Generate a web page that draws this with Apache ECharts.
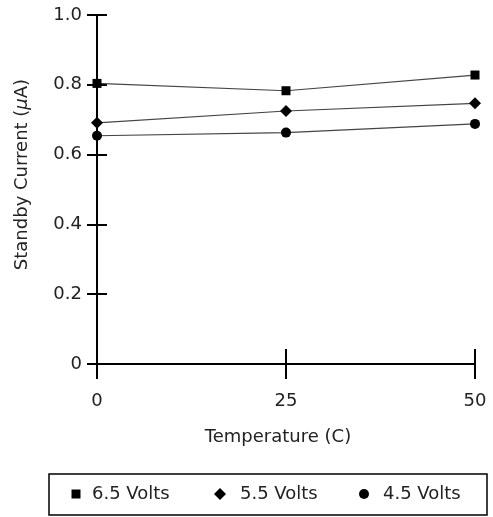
<!DOCTYPE html>
<html><head><meta charset="utf-8">
<script src="https://cdn.jsdelivr.net/npm/echarts@6/dist/echarts.min.js"></script>
<style>html,body{margin:0;padding:0;background:#fff}#c{width:493px;height:517px}</style>
</head><body><div id="c"></div>
<script>
const temperatures = [0, 25, 50];
const seriesNames = ['6.5 Volts', '5.5 Volts', '4.5 Volts'];
const v65 = [0.804, 0.783, 0.828];
const v55 = [0.691, 0.725, 0.747];
const v45 = [0.654, 0.663, 0.688];
const xTicks = [0, 25, 50];
const yTicks = [0, 0.2, 0.4, 0.6, 0.8, 1.0];

const FONT = 'DejaVu Sans';
const FS = 18;
const TXT = '#222';
const chart = echarts.init(document.getElementById('c'), null, {renderer: 'canvas'});

function pairs(vals) { return temperatures.map((t, i) => [t, vals[i]]); }

const symbols = ['rect', 'diamond', 'circle'];
const symSizes = [9, 12, 10];
const allVals = [v65, v55, v45];
const legendIcon = [9, 12, 10];
const legendLeft = [71.5, 214, 359];
const legendPad = [6.5, 9, 9];

const axisLineStyle = {show: true, lineStyle: {color: '#000', width: 2}};
const tickStyle = {color: '#000', width: 2};

const option = {
  animation: false,
  grid: {left: 97, right: 18, top: 15, bottom: 153, containLabel: false},
  xAxis: [
    {type: 'value', min: 0, max: 50, interval: 25, position: 'bottom',
     axisLine: axisLineStyle, splitLine: {show: false},
     axisTick: {show: true, inside: false, length: 15, lineStyle: tickStyle},
     axisLabel: {margin: 28, fontFamily: FONT, fontSize: FS, color: TXT,
       formatter: v => xTicks.includes(v) ? String(v) : ''},
     name: 'Temperature (C)', nameLocation: 'middle', nameGap: 64,
     nameTextStyle: {fontFamily: FONT, fontSize: FS, color: TXT, padding: [0, 16, 0, 0]}},
    {type: 'value', min: 0, max: 50, interval: 25, position: 'bottom',
     axisLine: axisLineStyle, splitLine: {show: false},
     axisTick: {show: true, inside: true, length: 15, lineStyle: tickStyle},
     axisLabel: {show: false}}
  ],
  yAxis: [
    {type: 'value', min: 0, max: 1.0, interval: 0.2, position: 'left',
     axisLine: axisLineStyle, splitLine: {show: false},
     axisTick: {show: true, inside: false, length: 10, lineStyle: tickStyle},
     axisLabel: {margin: 15, fontFamily: FONT, fontSize: FS, color: TXT,
       formatter: v => { const t = yTicks.find(y => Math.abs(y - v) < 1e-9);
         if (t === undefined) return ''; return t === 0 ? '0' : t.toFixed(1); }},
     name: 'Standby Current ({i|μ}A)', nameLocation: 'middle', nameGap: 66,
     nameTextStyle: {fontFamily: FONT, fontSize: FS, color: TXT, padding: [0, 0, 0, 30],
       rich: {i: {fontFamily: FONT, fontSize: FS, color: TXT, fontStyle: 'italic'}}}},
    {type: 'value', min: 0, max: 1.0, interval: 0.2, position: 'left',
     axisLine: axisLineStyle, splitLine: {show: false},
     axisTick: {show: true, inside: true, length: 10, lineStyle: tickStyle},
     axisLabel: {show: false}}
  ],
  legend: [0, 1, 2].map(i => ({
    data: [{name: seriesNames[i], icon: symbols[i]}],
    left: legendLeft[i], top: 485,
    itemWidth: legendIcon[i], itemHeight: legendIcon[i], padding: 0,
    selectedMode: false,
    textStyle: {fontFamily: FONT, fontSize: FS, color: TXT, padding: [0, 0, 0, legendPad[i]]},
    itemStyle: {color: '#000'}
  })),
  graphic: [{type: 'rect', shape: {x: 49, y: 474, width: 438, height: 41},
    style: {fill: 'none', stroke: '#000', lineWidth: 1.5}, silent: true}],
  series: [0, 1, 2].map(i => ({
    name: seriesNames[i], type: 'line', xAxisIndex: 0, yAxisIndex: 0,
    data: pairs(allVals[i]), symbol: symbols[i], symbolSize: symSizes[i],
    itemStyle: {color: '#000'}, lineStyle: {color: '#444', width: 1.2},
    z: 5
  }))
};
chart.setOption(option);
</script></body></html>
